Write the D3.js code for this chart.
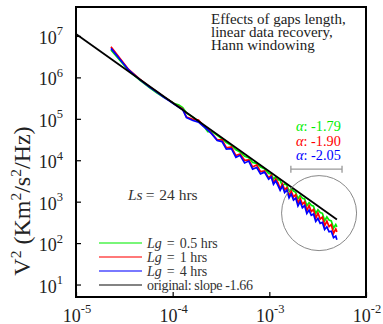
<!DOCTYPE html>
<html><head><meta charset="utf-8">
<script src="https://cdn.jsdelivr.net/npm/d3@7"></script>
<style>
body{margin:0;background:#fff;}
svg{display:block;font-family:"Liberation Serif","Times New Roman",serif;}
</style>
</head><body><div id="chart"></div>
<script>
// ---- data ----
const freq = [2.3e-5, 3.5e-5, 4.6e-5, 5.8e-5, 6.9e-5, 8.1e-5, 9.3e-5, 1.04e-4, 1.16e-4, 1.27e-4,
  1.39e-4, 1.62e-4, 1.85e-4, 2.08e-4, 2.31e-4, 2.55e-4, 2.89e-4, 3.24e-4, 3.59e-4, 4.05e-4,
  4.51e-4, 4.98e-4, 5.55e-4, 6.13e-4, 6.71e-4, 7.41e-4, 8.10e-4, 8.91e-4, 9.84e-4, 1.047e-3,
  1.104e-3, 1.164e-3, 1.227e-3, 1.294e-3, 1.365e-3, 1.439e-3, 1.517e-3, 1.600e-3, 1.687e-3, 1.778e-3,
  1.875e-3, 1.977e-3, 2.084e-3, 2.198e-3, 2.317e-3, 2.443e-3, 2.576e-3, 2.716e-3, 2.864e-3, 3.020e-3,
  3.184e-3, 3.357e-3, 3.540e-3, 3.733e-3, 3.936e-3, 4.150e-3, 4.375e-3, 4.613e-3, 4.864e-3, 5.0e-3];

const psdLg05 = [4.57e6, 1.48e6, 8.51e5, 5.62e5, 4.17e5, 3.31e5, 2.75e5, 2.34e5, 2.14e5, 1.86e5,
  1.38e5, 1.10e5, 8.71e4, 6.92e4, 4.90e4, 4.90e4, 3.98e4, 3.31e4, 2.69e4, 2.29e4,
  1.78e4, 1.58e4, 1.24e4, 1.15e4, 8.85e3, 8.43e3, 6.81e3, 6.21e3, 4.81e3, 4.65e3,
  3.52e3, 3.98e3, 3.40e3, 3.27e3, 2.40e3, 2.68e3, 2.51e3, 1.75e3, 2.06e3, 1.80e3,
  1.69e3, 1.18e3, 1.41e3, 1.21e3, 1.16e3, 8.00e2, 9.51e2, 8.13e2, 7.78e2, 5.20e2,
  6.38e2, 5.46e2, 5.24e2, 3.45e2, 4.29e2, 3.58e2, 3.44e2, 2.30e2, 2.82e2, 2.45e2];

const psdLg1 = [5.50e6, 1.55e6, 8.91e5, 5.89e5, 4.47e5, 3.39e5, 2.75e5, 2.29e5, 1.95e5, 1.74e5,
  1.10e5, 9.77e4, 9.33e4, 6.76e4, 5.62e4, 4.37e4, 3.10e4, 3.09e4, 2.00e4, 2.09e4,
  1.30e4, 1.41e4, 1.00e4, 1.02e4, 6.90e3, 7.69e3, 5.30e3, 5.53e3, 3.75e3, 4.34e3,
  2.85e3, 3.55e3, 2.90e3, 2.05e3, 2.67e3, 1.95e3, 2.19e3, 1.38e3, 1.79e3, 1.30e3,
  1.47e3, 9.30e2, 1.20e3, 8.70e2, 9.86e2, 6.10e2, 8.09e2, 5.80e2, 6.47e2, 4.00e2,
  5.31e2, 3.80e2, 4.26e2, 2.62e2, 3.40e2, 2.50e2, 2.79e2, 1.72e2, 2.19e2, 1.86e2];

const psdLg4 = [5.01e6, 1.51e6, 8.71e5, 5.75e5, 4.37e5, 3.31e5, 2.69e5, 2.24e5, 1.91e5, 1.66e5,
  1.07e5, 9.12e4, 8.32e4, 6.61e4, 5.37e4, 4.27e4, 3.00e4, 2.82e4, 1.85e4, 1.91e4,
  1.18e4, 1.32e4, 8.60e3, 9.55e3, 6.10e3, 6.70e3, 4.70e3, 5.16e3, 3.50e3, 3.95e3,
  2.62e3, 3.16e3, 2.47e3, 1.88e3, 2.38e3, 1.66e3, 1.91e3, 1.24e3, 1.52e3, 1.09e3,
  1.22e3, 7.90e2, 1.00e3, 7.15e2, 8.02e2, 5.20e2, 6.28e2, 4.70e2, 5.02e2, 3.35e2,
  3.94e2, 3.00e2, 3.16e2, 2.12e2, 2.47e2, 1.88e2, 1.93e2, 1.35e2, 1.48e2, 1.20e2];

const originalFreq = [1e-5, 5e-3];
const originalPSD = [1.12e7, 3.72e2];

const seriesLabels = ["0.5 hrs", "1 hrs", "4 hrs"];
const originalLabel = "original: slope -1.66";
const alphaValues = ["-1.79", "-1.90", "-2.05"];
const seriesColors = ["#00ee00", "#ff0000", "#0000ff"];

const xTicks = [1e-5, 1e-4, 1e-3, 1e-2];
const xTickExp = ["-5", "-4", "-3", "-2"];
const yTicks = [1e1, 1e2, 1e3, 1e4, 1e5, 1e6, 1e7];
const yTickExp = ["1", "2", "3", "4", "5", "6", "7"];

const titleLines = ["Effects of gaps length,", "linear data recovery,", "Hann windowing"];

// annotation region (data coordinates)
const circleCenter = [3.27e-3, 530];
const bracketFreq = [1.67e-3, 5.65e-3];
const bracketPSD = 6.1e3;

// ---- drawing ----
const W = 383, H = 324;
const L = 76, R = 366, T = 7, B = 297;
const svg = d3.select("#chart").append("svg").attr("width", W).attr("height", H);

const x = d3.scaleLog().domain([1e-5, 1e-2]).range([L, R]);
const y = d3.scaleLog().domain([5, 5e7]).range([B, T]);

// axes ticks (inward)
const xAxis = svg.append("g").attr("transform", `translate(0,${B})`)
  .call(d3.axisBottom(x).tickValues(xTicks).tickSize(-5).tickFormat(""));
const yAxis = svg.append("g").attr("transform", `translate(${L},0)`)
  .call(d3.axisLeft(y).tickValues(yTicks).tickSize(-5).tickFormat(""));
[xAxis, yAxis].forEach(a => { a.select(".domain").remove(); a.selectAll("line").attr("stroke", "#000").attr("stroke-width", 1.2); });

// tick labels with superscripts
xTicks.forEach((v, i) => {
  const t = svg.append("text").attr("x", x(v) + 1).attr("y", 321.5).attr("text-anchor", "middle")
    .attr("fill", "#222").style("font-size", "18px");
  t.append("tspan").text("10");
  t.append("tspan").attr("dy", -8.5).style("font-size", "12.5px").text(xTickExp[i]);
});
yTicks.forEach((v, i) => {
  const t = svg.append("text").attr("x", 63).attr("y", y(v) + 8).attr("text-anchor", "end")
    .attr("fill", "#222").style("font-size", "18px");
  t.append("tspan").text("10");
  t.append("tspan").attr("dy", -8.5).style("font-size", "12.5px").text(yTickExp[i]);
});

// y axis label
const yl = svg.append("text").attr("transform", "translate(30,201) rotate(-90)")
  .attr("text-anchor", "middle").attr("fill", "#222").style("font-size", "24px");
yl.append("tspan").text("V");
yl.append("tspan").attr("dy", -9).style("font-size", "15.5px").text("2");
yl.append("tspan").attr("dy", 9).text(" (Km");
yl.append("tspan").attr("dy", -9).style("font-size", "15.5px").text("2");
yl.append("tspan").attr("dy", 9).text("/s");
yl.append("tspan").attr("dy", -9).style("font-size", "15.5px").text("2");
yl.append("tspan").attr("dy", 9).text("/Hz)");

// data lines
const line = d3.line().x(d => x(d[0])).y(d => y(d[1]));
[psdLg05, psdLg1, psdLg4].forEach((vals, i) => {
  svg.append("path").datum(freq.map((f, k) => [f, vals[k]]))
    .attr("d", line).attr("fill", "none").attr("stroke", seriesColors[i])
    .attr("stroke-width", 1.7).attr("stroke-linejoin", "miter");
});
svg.append("path").datum(originalFreq.map((f, k) => [f, originalPSD[k]]))
  .attr("d", line).attr("fill", "none").attr("stroke", "#000").attr("stroke-width", 1.8);

// annotation circle and bracket
svg.append("circle").attr("cx", x(circleCenter[0])).attr("cy", y(circleCenter[1])).attr("r", 37.5)
  .attr("fill", "none").attr("stroke", "#888").attr("stroke-width", 1);
const bx0 = x(bracketFreq[0]), bx1 = x(bracketFreq[1]), by = y(bracketPSD);
svg.append("path").attr("d", `M${bx0},${by-3.5}V${by+3.5}M${bx0},${by}H${bx1}M${bx1},${by-3.5}V${by+3.5}`)
  .attr("fill", "none").attr("stroke", "#999").attr("stroke-width", 1.3);

// alpha labels
alphaValues.forEach((a, i) => {
  const t = svg.append("text").attr("x", 296).attr("y", 131 + i * 14.5)
    .attr("fill", seriesColors[i]).style("font-size", "14.3px");
  t.append("tspan").style("font-style", "italic").text("α");
  t.append("tspan").text(": " + a);
});

// title block (one multi-line text)
const title = svg.append("text").attr("x", 211).attr("y", 23.5).attr("fill", "#222")
  .style("font-size", "15px");
titleLines.forEach((s, i) => {
  title.append("tspan").attr("x", 211).attr("dy", i === 0 ? 0 : 13).text(s);
});

// Ls text
const ls = svg.append("text").attr("x", 128).attr("y", 200).attr("fill", "#333").style("font-size", "15.5px");
ls.append("tspan").style("font-style", "italic").text("Ls");
ls.append("tspan").attr("dx", 3).text("=");
ls.append("tspan").attr("dx", 1).text(" 24 hrs");

// legend
const legY = [243, 257, 271, 285];
const legColors = seriesColors.concat(["#000"]);
legY.forEach((yy, i) => {
  svg.append("line").attr("x1", 99).attr("x2", 142).attr("y1", yy).attr("y2", yy)
    .attr("stroke", legColors[i]).attr("stroke-width", 1.4).attr("stroke-opacity", i === 3 ? 0.65 : 0.7);
  const t = svg.append("text").attr("x", 147).attr("y", yy + 4.5).attr("fill", "#333").style("font-size", "14px");
  if (i < 3) {
    t.append("tspan").style("font-style", "italic").text("Lg");
    t.append("tspan").attr("dx", 5).text("=");
    t.append("tspan").attr("dx", 5).text(seriesLabels[i]);
  } else {
    t.append("tspan").attr("textLength", 106).text(originalLabel);
  }
});

// frame
svg.append("rect").attr("x", L).attr("y", T).attr("width", R - L).attr("height", B - T)
  .attr("fill", "none").attr("stroke", "#000").attr("stroke-width", 2);
</script>
</body></html>
